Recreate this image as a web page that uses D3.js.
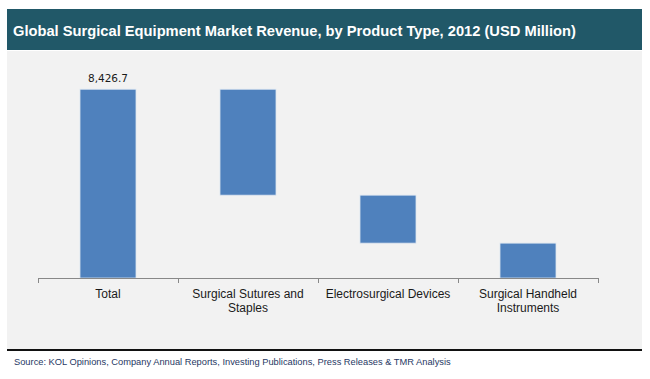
<!DOCTYPE html>
<html><head><meta charset="utf-8">
<script src="https://cdn.jsdelivr.net/npm/d3@7"></script>
<style>body{margin:0;background:#fff}svg{display:block}</style>
</head><body>
<svg id="c" width="650" height="379"></svg>
<script>
const title = "Global Surgical Equipment Market Revenue, by Product Type, 2012 (USD Million)";
const source = "Source: KOL Opinions, Company Annual Reports, Investing Publications, Press Releases & TMR Analysis";
const categories = ["Total", "Surgical Sutures and Staples", "Electrosurgical Devices", "Surgical Handheld Instruments"];
const categoryLines = [["Total"], ["Surgical Sutures and", "Staples"], ["Electrosurgical Devices"], ["Surgical Handheld", "Instruments"]];
const values = [8426.7, 4728.6, 2141.5, 1556.6];
const isTotal = [true, false, false, false];
const labels = ["8,426.7", "", "", ""];

const svg = d3.select("#c");
// title bar
svg.append("rect").attr("x", 7).attr("y", 9).attr("width", 635).attr("height", 41).attr("fill", "#215868");
svg.append("text").attr("x", 13).attr("y", 36).attr("fill", "#fff")
  .attr("font-family", "Liberation Sans, Arial, sans-serif").attr("font-weight", "bold").attr("font-size", 14.7)
  .text(title);
// panel
svg.append("rect").attr("x", 7).attr("y", 51).attr("width", 635).attr("height", 298).attr("fill", "#f2f2f2");
svg.append("rect").attr("x", 7).attr("y", 349).attr("width", 635).attr("height", 2).attr("fill", "#111");
svg.append("text").attr("x", 14).attr("y", 365).attr("fill", "#1f3864")
  .attr("font-family", "Liberation Sans, Arial, sans-serif").attr("font-size", 9.3)
  .text(source);

// waterfall computations
let running = values[0];
const segs = values.map((v, i) => {
  if (isTotal[i]) { return {c: categories[i], y0: 0, y1: v}; }
  const s = {c: categories[i], y0: running - v, y1: running};
  running -= v;
  return s;
});

const x = d3.scaleBand().domain(categories).range([38, 598]).paddingInner(0).paddingOuter(0);
const y = d3.scaleLinear().domain([0, 10000]).range([278, 54]);
const bw = x.bandwidth() * 0.4;

svg.append("g").selectAll("rect").data(segs).join("rect")
  .attr("x", d => x(d.c) + (x.bandwidth() - bw) / 2)
  .attr("width", bw)
  .attr("y", d => y(d.y1))
  .attr("height", d => y(d.y0) - y(d.y1))
  .attr("fill", "#4f81bd")
  .attr("stroke", "#dbe5f1").attr("stroke-width", 0.8);

// axis
const ax = svg.append("g");
ax.append("line").attr("x1", 38).attr("x2", 598).attr("y1", 278.5).attr("y2", 278.5).attr("stroke", "#888");
const tickPos = categories.map(c => x(c)).concat([x.range()[1]]);
ax.selectAll("line.t").data(tickPos).join("line").attr("class", "t")
  .attr("x1", d => d + 0.5).attr("x2", d => d + 0.5).attr("y1", 278).attr("y2", 283).attr("stroke", "#888");

// category labels
const lg = svg.append("g").attr("font-family", "Liberation Sans, Arial, sans-serif").attr("font-size", 12)
  .attr("fill", "#1a1a1a").attr("text-anchor", "middle");
categories.forEach((c, i) => {
  const t = lg.append("text").attr("x", x(c) + x.bandwidth() / 2).attr("y", 298);
  categoryLines[i].forEach((ln, j) => {
    t.append("tspan").attr("x", x(c) + x.bandwidth() / 2).attr("dy", j === 0 ? 0 : 14).text(ln);
  });
});

// data labels
svg.append("g").selectAll("text").data(segs.filter((d, i) => labels[i])).join("text")
  .attr("x", d => x(d.c) + x.bandwidth() / 2)
  .attr("y", d => y(d.y1) - 7)
  .attr("text-anchor", "middle")
  .attr("font-family", "DejaVu Sans, Verdana, sans-serif").attr("font-size", 10.5).attr("fill", "#1a1a1a")
  .text((d) => labels[segs.indexOf(d)]);
</script>
</body></html>
